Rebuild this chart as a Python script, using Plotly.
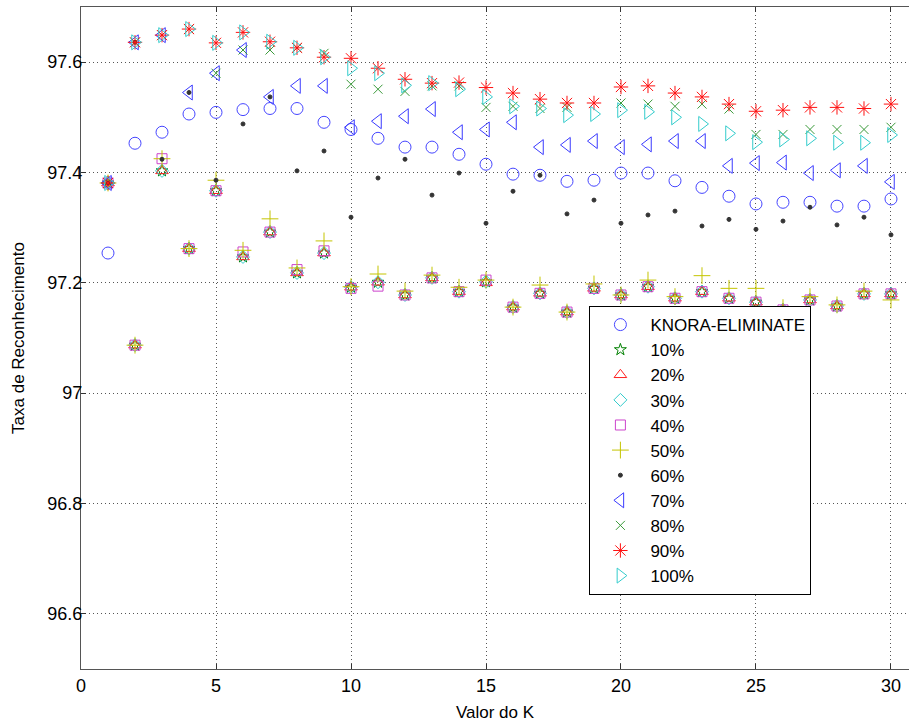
import plotly.graph_objects as go

K = list(range(1, 31))

knora = [97.254, 97.453, 97.473, 97.506, 97.509, 97.514, 97.516, 97.516, 97.491, 97.478,
         97.462, 97.446, 97.446, 97.433, 97.415, 97.397, 97.395, 97.384, 97.386, 97.399,
         97.399, 97.385, 97.373, 97.357, 97.343, 97.346, 97.346, 97.339, 97.339, 97.352]

p10 = [97.381, 97.087, 97.403, 97.262, 97.367, 97.247, 97.292, 97.218, 97.254, 97.192,
       97.201, 97.178, 97.209, 97.184, 97.202, 97.156, 97.181, 97.147, 97.190, 97.178,
       97.193, 97.172, 97.184, 97.172, 97.165, 97.151, 97.169, 97.158, 97.180, 97.180]
p20 = [97.381, 97.087, 97.403, 97.262, 97.367, 97.247, 97.292, 97.218, 97.254, 97.192,
       97.201, 97.178, 97.209, 97.184, 97.200, 97.156, 97.181, 97.147, 97.190, 97.178,
       97.193, 97.172, 97.184, 97.172, 97.165, 97.151, 97.169, 97.158, 97.180, 97.180]
p30 = [97.381, 97.087, 97.403, 97.262, 97.367, 97.247, 97.292, 97.218, 97.254, 97.192,
       97.201, 97.178, 97.209, 97.184, 97.202, 97.156, 97.181, 97.147, 97.190, 97.178,
       97.193, 97.172, 97.184, 97.172, 97.165, 97.151, 97.169, 97.158, 97.180, 97.180]
p40 = [97.381, 97.087, 97.425, 97.262, 97.367, 97.256, 97.292, 97.224, 97.258, 97.190,
       97.194, 97.178, 97.209, 97.184, 97.205, 97.156, 97.181, 97.147, 97.190, 97.178,
       97.193, 97.172, 97.184, 97.172, 97.165, 97.151, 97.169, 97.158, 97.180, 97.180]
p50 = [97.381, 97.087, 97.425, 97.262, 97.386, 97.259, 97.316, 97.227, 97.276, 97.193,
       97.216, 97.185, 97.214, 97.192, 97.205, 97.156, 97.196, 97.147, 97.198, 97.178,
       97.205, 97.175, 97.213, 97.190, 97.190, 97.155, 97.175, 97.160, 97.185, 97.169]
p60 = [97.381, 97.636, 97.424, 97.545, 97.386, 97.488, 97.537, 97.403, 97.439, 97.319,
       97.390, 97.424, 97.359, 97.399, 97.308, 97.366, 97.395, 97.325, 97.350, 97.308,
       97.323, 97.330, 97.303, 97.315, 97.297, 97.312, 97.337, 97.305, 97.319, 97.287]
p70 = [97.381, 97.636, 97.649, 97.545, 97.580, 97.622, 97.537, 97.557, 97.557, 97.482,
       97.493, 97.502, 97.515, 97.473, 97.478, 97.491, 97.446, 97.450, 97.457, 97.446,
       97.451, 97.457, 97.457, 97.412, 97.417, 97.418, 97.399, 97.404, 97.412, 97.383]
p80 = [97.381, 97.636, 97.649, 97.660, 97.580, 97.622, 97.622, 97.626, 97.616, 97.560,
       97.551, 97.547, 97.557, 97.557, 97.518, 97.520, 97.516, 97.518, 97.526, 97.526,
       97.524, 97.520, 97.524, 97.515, 97.469, 97.469, 97.478, 97.478, 97.478, 97.482]
p90 = [97.381, 97.636, 97.649, 97.660, 97.635, 97.654, 97.637, 97.626, 97.609, 97.607,
       97.589, 97.569, 97.562, 97.563, 97.554, 97.544, 97.533, 97.526, 97.526, 97.555,
       97.557, 97.544, 97.537, 97.524, 97.511, 97.513, 97.518, 97.518, 97.516, 97.524]
p100 = [97.381, 97.636, 97.649, 97.660, 97.635, 97.654, 97.637, 97.626, 97.609, 97.589,
        97.580, 97.558, 97.562, 97.551, 97.537, 97.520, 97.516, 97.504, 97.506, 97.513,
        97.510, 97.500, 97.488, 97.471, 97.455, 97.460, 97.462, 97.454, 97.454, 97.468]

names = ["KNORA-ELIMINATE", "10%", "20%", "30%", "40%", "50%", "60%", "70%", "80%", "90%", "100%"]
series = [knora, p10, p20, p30, p40, p50, p60, p70, p80, p90, p100]
symbols = ["circle-open", "star-open", "triangle-up-open", "diamond-open", "square-open",
           "cross-thin-open", "circle", "triangle-left-open", "x-thin-open", "asterisk-open",
           "triangle-right-open"]
colors = ["#4646ff", "#008000", "#ff2020", "#33cccc", "#cc44cc", "#c4c400", "#333333",
          "#3a3aff", "#3a9a3a", "#ff1010", "#33cccc"]
sizes = [12, 9, 11, 10, 10, 12, 4, 13, 9, 12, 13]

fig = go.Figure()
for nm, ys, sym, col, sz in zip(names, series, symbols, colors, sizes):
    fig.add_trace(go.Scatter(
        x=K, y=ys, mode="markers", name=nm,
        marker=dict(symbol=sym, color=col, size=sz, line=dict(width=1, color=col)),
    ))

fig.update_layout(
    width=909, height=724,
    margin=dict(l=81, r=0, t=7, b=55),
    plot_bgcolor="white", paper_bgcolor="white",
    font=dict(family="Arial, Liberation Sans, sans-serif", size=18, color="black"),
    showlegend=True,
    legend=dict(x=0.614, y=0.33, xanchor="left", yanchor="middle",
                bordercolor="black", borderwidth=1, bgcolor="white",
                font=dict(size=17), itemwidth=50),
)
fig.update_xaxes(
    range=[0, 30.667], tickvals=[0, 5, 10, 15, 20, 25, 30],
    ticks="inside", ticklen=5, tickcolor="#333333",
    showline=True, linecolor="#555555", linewidth=1, mirror="ticks",
    showgrid=True, gridcolor="#555555", griddash="1px,3px", gridwidth=1,
    zeroline=False, automargin=False,
    title=dict(text="Valor do K", font=dict(size=17), standoff=11),
)
fig.update_yaxes(
    range=[96.5, 97.7], tickvals=[96.6, 96.8, 97.0, 97.2, 97.4, 97.6],
    ticktext=["96.6", "96.8", "97", "97.2", "97.4", "97.6"],
    ticks="inside", ticklen=5, tickcolor="#333333", ticklabelstandoff=-6,
    showline=True, linecolor="#555555", linewidth=1, mirror=False,
    showgrid=True, gridcolor="#555555", griddash="1px,3px", gridwidth=1,
    zeroline=False, automargin=False,
    title=dict(text="Taxa de Reconhecimento", font=dict(size=17), standoff=18),
)

fig.write_html("out.html", config={"displayModeBar": False},
               post_script="document.body.style.margin='0';")
